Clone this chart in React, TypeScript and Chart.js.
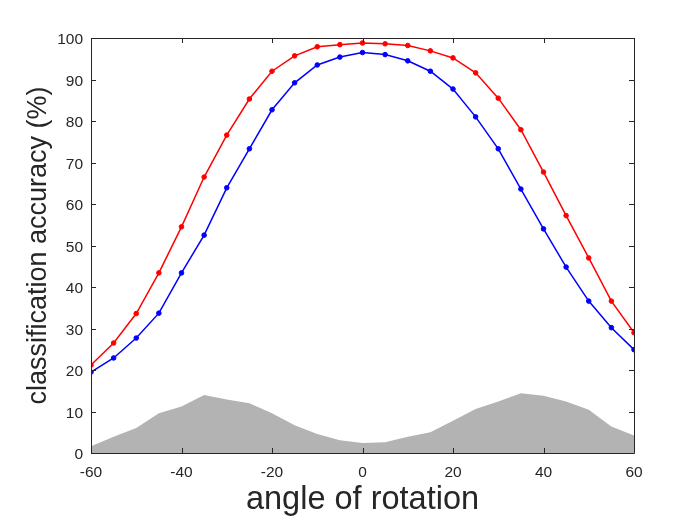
import React, { useEffect, useRef } from "react";
import { Chart, registerables } from "chart.js";

Chart.register(...registerables);

const angles = [-60, -55, -50, -45, -40, -35, -30, -25, -20, -15, -10, -5, 0, 5, 10, 15, 20, 25, 30, 35, 40, 45, 50, 55, 60];
const redSeries = [21.2, 26.5, 33.6, 43.4, 54.5, 66.5, 76.6, 85.3, 92.0, 95.7, 97.9, 98.4, 98.8, 98.6, 98.2, 96.9, 95.2, 91.6, 85.5, 77.9, 67.7, 57.2, 47.0, 36.6, 29.0];
const blueSeries = [19.5, 22.9, 27.7, 33.7, 43.4, 52.5, 63.9, 73.3, 82.7, 89.2, 93.5, 95.4, 96.5, 96.0, 94.5, 92.0, 87.7, 81.0, 73.3, 63.6, 54.0, 44.8, 36.6, 30.2, 24.9];
const graySeries = [1.6, 3.9, 6.0, 9.6, 11.2, 14.0, 12.9, 12.0, 9.6, 6.7, 4.6, 3.1, 2.4, 2.6, 3.9, 5.0, 7.8, 10.6, 12.4, 14.4, 13.8, 12.4, 10.4, 6.4, 4.2];
const xTicks = [-60, -40, -20, 0, 20, 40, 60];
const yTicks = [0, 10, 20, 30, 40, 50, 60, 70, 80, 90, 100];

const AXIS = "#262626";
const FONT = "'Liberation Sans', Arial, Helvetica, sans-serif";

const boxPlugin = {
  id: "matlabBox",
  afterDatasetsDraw(chart: any) {
    const { ctx, chartArea: a, scales } = chart;
    const len = 5;
    ctx.save();
    ctx.strokeStyle = AXIS;
    ctx.lineWidth = 1;
    ctx.beginPath();
    ctx.rect(Math.round(a.left) + 0.5, Math.round(a.top) + 0.5, Math.round(a.right - a.left), Math.round(a.bottom - a.top));
    for (const v of xTicks) {
      const px = Math.round(scales.x.getPixelForValue(v)) + 0.5;
      ctx.moveTo(px, a.bottom);
      ctx.lineTo(px, a.bottom - len);
      ctx.moveTo(px, a.top);
      ctx.lineTo(px, a.top + len);
    }
    for (const v of yTicks) {
      const py = Math.round(scales.y.getPixelForValue(v)) + 0.5;
      ctx.moveTo(a.left, py);
      ctx.lineTo(a.left + len, py);
      ctx.moveTo(a.right, py);
      ctx.lineTo(a.right - len, py);
    }
    ctx.stroke();
    ctx.restore();
  },
};

export default function App() {
  const ref = useRef<HTMLCanvasElement | null>(null);
  useEffect(() => {
    document.body.style.margin = "0";
    const canvas = ref.current!;
    const toPts = (ys: number[]) => angles.map((x, i) => ({ x, y: ys[i] }));
    const chart = new Chart(canvas, {
      type: "line",
      data: {
        datasets: [
          {
            label: "red",
            data: toPts(redSeries),
            borderColor: "#ff0000",
            backgroundColor: "#ff0000",
            borderWidth: 1.5,
            pointRadius: 2.3,
            pointBorderWidth: 1,
            pointBorderColor: "#ff0000",
            fill: false,
            order: 1,
          },
          {
            label: "blue",
            data: toPts(blueSeries),
            borderColor: "#0000ff",
            backgroundColor: "#0000ff",
            borderWidth: 1.5,
            pointRadius: 2.3,
            pointBorderWidth: 1,
            pointBorderColor: "#0000ff",
            fill: false,
            order: 2,
          },
          {
            label: "gray",
            data: toPts(graySeries),
            borderColor: "rgba(0,0,0,0)",
            backgroundColor: "#b3b3b3",
            borderWidth: 0,
            pointRadius: 0,
            fill: "origin",
            order: 3,
          },
        ],
      },
      options: {
        animation: false,
        responsive: false,
        devicePixelRatio: 1,
        layout: { padding: { top: 38, right: 66, left: 0, bottom: 0 } },
        plugins: { legend: { display: false }, tooltip: { enabled: false } },
        scales: {
          x: {
            type: "linear",
            min: -60,
            max: 60,
            afterBuildTicks: (s: any) => {
              s.ticks = xTicks.map((v) => ({ value: v }));
            },
            afterFit: (s: any) => {
              s.height = 72;
            },
            grid: { display: false, drawTicks: false },
            border: { display: false },
            ticks: {
              color: AXIS,
              font: { family: FONT, size: 15.5 },
              padding: 10,
              maxRotation: 0,
              autoSkip: false,
            },
            title: {
              display: true,
              text: "angle of rotation",
              color: AXIS,
              font: { family: FONT, size: 32.5 },
              padding: { top: 0, bottom: 5 },
            },
          },
          y: {
            type: "linear",
            min: 0,
            max: 100,
            afterBuildTicks: (s: any) => {
              s.ticks = yTicks.map((v) => ({ value: v }));
            },
            afterFit: (s: any) => {
              s.width = 91;
            },
            grid: { display: false, drawTicks: false },
            border: { display: false },
            ticks: {
              color: AXIS,
              font: { family: FONT, size: 15.5 },
              padding: 8,
              labelOffset: 2,
              autoSkip: false,
            },
            title: {
              display: true,
              text: "classification accuracy (%)",
              color: AXIS,
              font: { family: FONT, size: 27 },
              padding: { top: 22, bottom: 0 },
            },
          },
        },
      },
      plugins: [boxPlugin],
    });
    return () => chart.destroy();
  }, []);
  return (
    <div style={{ position: "relative", width: 700, height: 525, background: "#ffffff" }}>
      <canvas ref={ref} width={700} height={525} style={{ position: "absolute", left: 0, top: 0 }} />
    </div>
  );
}
